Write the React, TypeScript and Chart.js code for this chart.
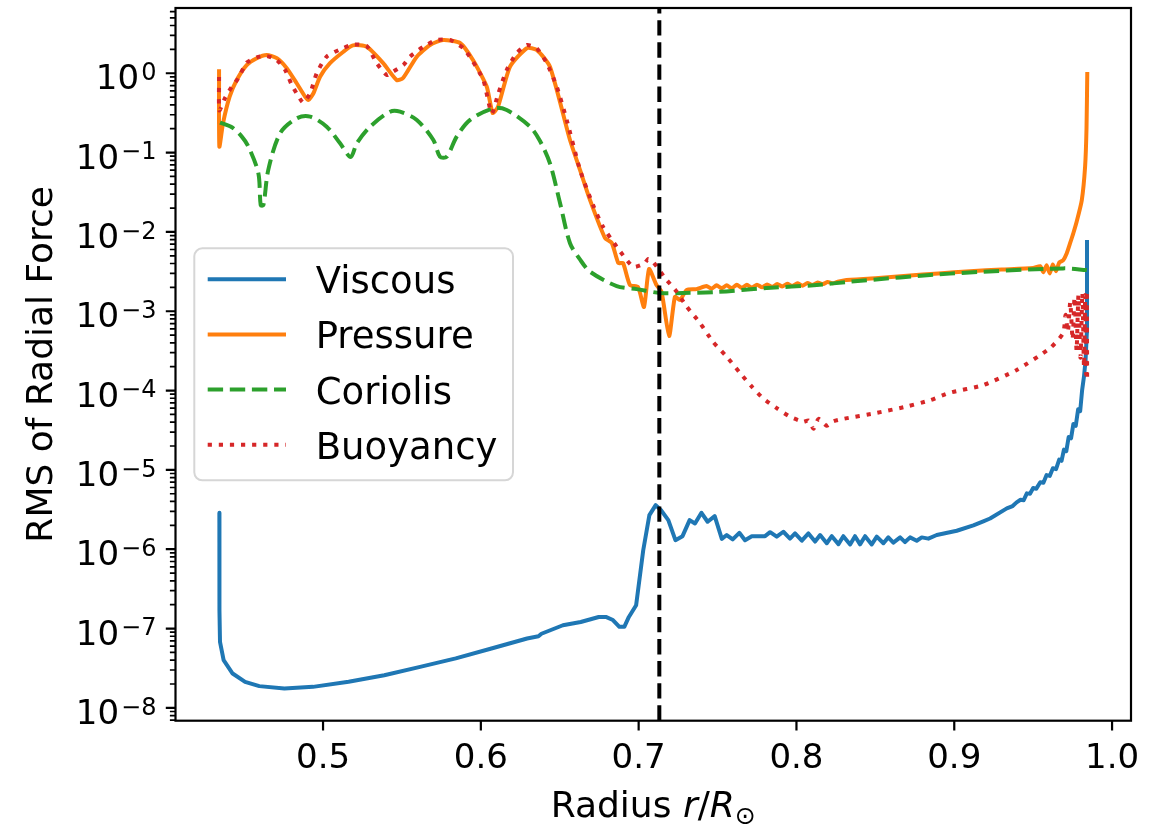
import React, { useEffect, useRef } from "react";
import { Chart, registerables } from "chart.js";

Chart.register(...registerables);

// ---------------- data ----------------
const viscousR = [0.4343, 0.4343, 0.4344, 0.4347, 0.437, 0.4427, 0.4506, 0.4596, 0.4755, 0.4936, 0.5162, 0.5388, 0.5615, 0.5841, 0.6067, 0.6293, 0.6365, 0.6384, 0.652, 0.6633, 0.6747, 0.6792, 0.6837, 0.6878, 0.6909, 0.6938, 0.6984, 0.7029, 0.7068, 0.7108, 0.7142, 0.7188, 0.7233, 0.7278, 0.7323, 0.7357, 0.7398, 0.7437, 0.7482, 0.7527, 0.7558, 0.7596, 0.7638, 0.7674, 0.7717, 0.7801, 0.7833, 0.7875, 0.7917, 0.7959, 0.7991, 0.8034, 0.8076, 0.8118, 0.815, 0.8192, 0.8224, 0.8266, 0.8297, 0.834, 0.8371, 0.8403, 0.8435, 0.8477, 0.8509, 0.8551, 0.8582, 0.8614, 0.8657, 0.8688, 0.872, 0.8762, 0.8794, 0.8836, 0.8889, 0.9016, 0.9121, 0.9184, 0.9227, 0.9333, 0.937, 0.9395, 0.942, 0.944, 0.946, 0.948, 0.95, 0.952, 0.9545, 0.9565, 0.9585, 0.9605, 0.9625, 0.9645, 0.9665, 0.968, 0.9695, 0.971, 0.9725, 0.974, 0.9755, 0.977, 0.9785, 0.9798, 0.981, 0.9822, 0.9832, 0.984, 0.9841];
const viscousV = [2.88e-6, 4.95e-7, 1.7e-7, 6.8e-8, 4.0e-8, 2.71e-8, 2.13e-8, 1.88e-8, 1.76e-8, 1.84e-8, 2.13e-8, 2.58e-8, 3.29e-8, 4.2e-8, 5.6e-8, 7.5e-8, 8.0e-8, 8.6e-8, 1.1e-7, 1.21e-7, 1.4e-7, 1.4e-7, 1.28e-7, 1.05e-7, 1.05e-7, 1.4e-7, 1.97e-7, 9.7e-7, 2.69e-6, 3.6e-6, 3.1e-6, 2.33e-6, 1.3e-6, 1.46e-6, 2.33e-6, 2.11e-6, 2.88e-6, 2.22e-6, 2.61e-6, 1.35e-6, 1.51e-6, 1.33e-6, 1.61e-6, 1.3e-6, 1.46e-6, 1.46e-6, 1.64e-6, 1.44e-6, 1.66e-6, 1.36e-6, 1.58e-6, 1.28e-6, 1.58e-6, 1.25e-6, 1.51e-6, 1.19e-6, 1.46e-6, 1.16e-6, 1.46e-6, 1.15e-6, 1.46e-6, 1.15e-6, 1.46e-6, 1.15e-6, 1.44e-6, 1.19e-6, 1.41e-6, 1.21e-6, 1.41e-6, 1.23e-6, 1.41e-6, 1.28e-6, 1.41e-6, 1.36e-6, 1.51e-6, 1.71e-6, 2.0e-6, 2.25e-6, 2.44e-6, 3.27e-6, 3.5e-6, 3.9e-6, 4.2e-6, 4.15e-6, 5.06e-6, 5.0e-6, 5.9e-6, 5.8e-6, 7.0e-6, 6.9e-6, 8.6e-6, 8.4e-6, 1.05e-5, 1.02e-5, 1.35e-5, 1.3e-5, 1.8e-5, 1.72e-5, 2.6e-5, 2.5e-5, 3.8e-5, 3.6e-5, 5.8e-5, 5.5e-5, 1.0e-4, 1.5e-4, 2.4e-4, 5.3e-4, 7.9e-3];

const pressureR = [0.4341, 0.4343, 0.4366, 0.4408, 0.4453, 0.4516, 0.458, 0.4643, 0.4707, 0.477, 0.4833, 0.4886, 0.4907, 0.4939, 0.4981, 0.5044, 0.5129, 0.519, 0.5277, 0.538, 0.5467, 0.5507, 0.5594, 0.5678, 0.576, 0.5868, 0.595, 0.6037, 0.6075, 0.6109, 0.6185, 0.6291, 0.6354, 0.6438, 0.6565, 0.6629, 0.6692, 0.6787, 0.683, 0.6871, 0.6901, 0.6945, 0.6996, 0.7034, 0.7066, 0.7113, 0.7145, 0.7193, 0.723, 0.7262, 0.7303, 0.7366, 0.743, 0.7462, 0.7494, 0.7526, 0.7558, 0.759, 0.7622, 0.7654, 0.7686, 0.7718, 0.775, 0.7782, 0.7814, 0.7846, 0.7878, 0.791, 0.7942, 0.7974, 0.8006, 0.8038, 0.807, 0.8102, 0.8134, 0.8166, 0.8198, 0.823, 0.8262, 0.83, 0.85, 0.87, 0.89, 0.91, 0.93, 0.95, 0.9545, 0.9565, 0.9585, 0.9605, 0.9625, 0.9645, 0.9665, 0.969, 0.9713, 0.9734, 0.9755, 0.9776, 0.9808, 0.9829, 0.9838, 0.9843];
const pressureV = [1.12, 0.119, 0.234, 0.507, 0.823, 1.27, 1.55, 1.7, 1.55, 1.16, 0.748, 0.507, 0.46, 0.56, 0.906, 1.34, 1.87, 2.25, 2.16, 1.35, 0.82, 0.87, 1.62, 2.27, 2.63, 2.41, 1.47, 0.68, 0.316, 0.38, 1.21, 2.07, 1.97, 1.21, 0.144, 0.06, 0.0252, 0.00838, 0.00724, 0.00405, 0.00405, 0.00214, 0.00202, 0.00113, 0.0034, 0.00214, 0.00176, 0.000487, 0.00152, 0.00138, 0.00185, 0.0019, 0.00208, 0.00192, 0.00212, 0.00195, 0.00212, 0.00195, 0.00215, 0.00197, 0.00215, 0.00198, 0.00216, 0.002, 0.00218, 0.00202, 0.0022, 0.00205, 0.00222, 0.00208, 0.00225, 0.0021, 0.00227, 0.00215, 0.0023, 0.0022, 0.00233, 0.00225, 0.00236, 0.00245, 0.0026, 0.0028, 0.003, 0.0032, 0.00335, 0.0035, 0.0037, 0.0031, 0.0038, 0.003, 0.0039, 0.0032, 0.0041, 0.0044, 0.0054, 0.0072, 0.0097, 0.0135, 0.025, 0.066, 0.2, 1.04];

const coriolisR = [0.4347, 0.4422, 0.4485, 0.4527, 0.459, 0.4605, 0.4622, 0.4653, 0.4728, 0.4833, 0.4918, 0.5023, 0.5108, 0.5175, 0.5214, 0.5298, 0.5425, 0.5488, 0.5594, 0.5699, 0.5741, 0.5784, 0.5847, 0.5932, 0.6079, 0.6164, 0.6312, 0.6375, 0.6438, 0.6502, 0.6565, 0.6628, 0.6692, 0.6861, 0.6988, 0.7136, 0.7281, 0.7495, 0.7812, 0.8129, 0.834, 0.8973, 0.969, 0.984];
const coriolisV = [0.239, 0.209, 0.159, 0.119, 0.055, 0.0218, 0.0218, 0.0606, 0.175, 0.27, 0.284, 0.212, 0.131, 0.088, 0.131, 0.212, 0.328, 0.328, 0.258, 0.144, 0.0888, 0.0888, 0.159, 0.258, 0.362, 0.344, 0.212, 0.14, 0.073, 0.023, 0.0072, 0.0045, 0.00315, 0.00208, 0.0019, 0.0017, 0.0017, 0.00175, 0.00196, 0.00214, 0.00236, 0.00298, 0.00347, 0.0033];

const buoyancyR = [0.4341, 0.4343, 0.4379, 0.4422, 0.4463, 0.4516, 0.458, 0.4643, 0.4707, 0.476, 0.4802, 0.4843, 0.4875, 0.4918, 0.496, 0.5023, 0.5108, 0.519, 0.5277, 0.534, 0.5404, 0.5444, 0.5509, 0.5551, 0.5636, 0.572, 0.5805, 0.5889, 0.595, 0.6016, 0.6069, 0.6111, 0.6164, 0.6227, 0.6291, 0.6354, 0.6418, 0.6481, 0.6544, 0.6629, 0.6711, 0.6774, 0.6861, 0.6965, 0.7036, 0.706, 0.7091, 0.7167, 0.7241, 0.7305, 0.7389, 0.7471, 0.7558, 0.7643, 0.7717, 0.7788, 0.7875, 0.7959, 0.8044, 0.8076, 0.8108, 0.814, 0.8192, 0.8235, 0.8298, 0.85, 0.87, 0.885, 0.8973, 0.9183, 0.9396, 0.9607, 0.969, 0.9705, 0.972, 0.9735, 0.975, 0.9762, 0.9775, 0.9787, 0.98, 0.9812, 0.9822, 0.983, 0.9836, 0.984, 0.9842];
const buoyancyV = [0.9, 0.34, 0.488, 0.678, 0.865, 1.36, 1.59, 1.65, 1.47, 1.1, 0.71, 0.517, 0.426, 0.56, 1.0, 1.62, 2.0, 2.3, 2.2, 1.34, 0.95, 1.05, 1.27, 1.62, 2.16, 2.63, 2.63, 2.07, 1.4, 0.82, 0.313, 0.56, 1.1, 1.79, 2.27, 2.07, 1.34, 0.68, 0.258, 0.06, 0.0218, 0.0116, 0.0065, 0.00364, 0.004, 0.00455, 0.00421, 0.00262, 0.00176, 0.00114, 0.00071, 0.000412, 0.000267, 0.000166, 0.000112, 8.0e-5, 6.0e-5, 4.68e-5, 4.04e-5, 4.2e-5, 3.3e-5, 4.4e-5, 3.6e-5, 4.1e-5, 4.4e-5, 5.2e-5, 6.3e-5, 7.6e-5, 9.4e-5, 1.17e-4, 1.82e-4, 3.43e-4, 5.3e-4, 9.0e-4, 5.5e-4, 1.3e-3, 4.4e-4, 1.5e-3, 3.2e-4, 1.6e-3, 2.6e-4, 1.7e-3, 2.0e-4, 1.6e-3, 1.6e-4, 1.8e-3, 1.4e-4];

const tachoclineR = 0.7131;

const seriesLabels = ["Viscous", "Pressure", "Coriolis", "Buoyancy"];
const xTickValues = [0.5, 0.6, 0.7, 0.8, 0.9, 1.0];
const xTickLabels = ["0.5", "0.6", "0.7", "0.8", "0.9", "1.0"];
const yTickValues = [1e-8, 1e-7, 1e-6, 1e-5, 1e-4, 1e-3, 1e-2, 1e-1, 1];
const yTickExponents = ["\u22128", "\u22127", "\u22126", "\u22125", "\u22124", "\u22123", "\u22122", "\u22121", "0"];
const xAxisTitle = ["Radius ", "r", "/", "R", "\u2299"];
const yAxisTitle = "RMS of Radial Force";

// axis limits
const X_MIN = 0.4065;
const X_MAX = 1.012;
const Y_MIN = 6.89e-9;
const Y_MAX = 6.65;

const FONT = '"DejaVu Sans", "Liberation Sans", sans-serif';

function toPoints(xs: number[], ys: number[]) {
  return xs.map((x, i) => ({ x, y: ys[i] }));
}

const mplPlugin = {
  id: "mplAxes",
  afterDatasetsDraw(chart: any) {
    const { ctx, chartArea: a, scales } = chart;
    const xs = scales.x;
    const ys = scales.y;
    ctx.save();
    ctx.strokeStyle = "#000";
    ctx.fillStyle = "#000";

    // ticks
    const majorLen = 9.7;
    const minorLen = 5.6;
    ctx.lineWidth = 2.2;
    ctx.beginPath();
    xTickValues.forEach((v) => {
      const px = xs.getPixelForValue(v);
      ctx.moveTo(px, a.bottom);
      ctx.lineTo(px, a.bottom + majorLen);
    });
    yTickValues.forEach((v) => {
      const py = ys.getPixelForValue(v);
      ctx.moveTo(a.left, py);
      ctx.lineTo(a.left - majorLen, py);
    });
    ctx.stroke();

    ctx.lineWidth = 1.7;
    ctx.beginPath();
    for (let e = -9; e <= 0; e++) {
      for (let m = 2; m <= 9; m++) {
        const v = m * Math.pow(10, e);
        if (v < Y_MIN || v > Y_MAX) continue;
        const py = ys.getPixelForValue(v);
        ctx.moveTo(a.left, py);
        ctx.lineTo(a.left - minorLen, py);
      }
    }
    ctx.stroke();

    // spines
    ctx.lineWidth = 2.2;
    ctx.strokeRect(a.left, a.top, a.right - a.left, a.bottom - a.top);

    // x tick labels
    ctx.font = `34px ${FONT}`;
    ctx.textAlign = "center";
    ctx.textBaseline = "alphabetic";
    xTickValues.forEach((v, i) => {
      const px = xs.getPixelForValue(v);
      ctx.fillText(xTickLabels[i], px, a.bottom + 47.5);
    });

    // y tick labels: 10^n
    const right = a.left - majorLen - 9.4;
    yTickValues.forEach((v, i) => {
      const py = ys.getPixelForValue(v);
      ctx.font = `24px ${FONT}`;
      const we = ctx.measureText(yTickExponents[i]).width;
      ctx.font = `34px ${FONT}`;
      const wb = ctx.measureText("10").width;
      const start = right - we - wb - 2;
      ctx.textAlign = "left";
      ctx.fillText("10", start, py + 16);
      ctx.font = `24px ${FONT}`;
      ctx.fillText(yTickExponents[i], start + wb + 2, py + 6.7);
    });

    // x axis title with italic math
    const parts = [
      { t: xAxisTitle[0], f: `36px ${FONT}`, dy: 0 },
      { t: xAxisTitle[1], f: `italic 36px ${FONT}`, dy: 0 },
      { t: xAxisTitle[2], f: `36px ${FONT}`, dy: 0 },
      { t: xAxisTitle[3], f: `italic 36px ${FONT}`, dy: 0 },
      { t: xAxisTitle[4], f: `25px ${FONT}`, dy: 7 },
    ];
    let total = 0;
    const widths = parts.map((p) => {
      ctx.font = p.f;
      const w = ctx.measureText(p.t).width;
      total += w;
      return w;
    });
    let cx = (a.left + a.right) / 2 - total / 2;
    const baseY = a.bottom + 96.5;
    ctx.textAlign = "left";
    parts.forEach((p, i) => {
      ctx.font = p.f;
      ctx.fillText(p.t, cx, baseY + p.dy);
      cx += widths[i];
    });

    // y axis title
    ctx.save();
    ctx.translate(52, (a.top + a.bottom) / 2);
    ctx.rotate(-Math.PI / 2);
    ctx.font = `36px ${FONT}`;
    ctx.textAlign = "center";
    ctx.fillText(yAxisTitle, 0, 0);
    ctx.restore();

    // legend (center left)
    const lx = a.left + 18.8;
    const lw = 318.7;
    const lh = 232;
    const ly = (a.top + a.bottom) / 2 - lh / 2;
    ctx.beginPath();
    if (ctx.roundRect) ctx.roundRect(lx, ly, lw, lh, 8);
    else ctx.rect(lx, ly, lw, lh);
    ctx.fillStyle = "rgba(255,255,255,0.8)";
    ctx.fill();
    ctx.strokeStyle = "#d6d6d6";
    ctx.lineWidth = 2;
    ctx.stroke();

    const ds = chart.data.datasets;
    for (let i = 0; i < seriesLabels.length; i++) {
      const d = ds[i];
      const ry = ly + 31 + i * 55.1;
      ctx.beginPath();
      ctx.strokeStyle = d.borderColor;
      ctx.lineWidth = d.borderWidth;
      ctx.setLineDash(d.borderDash || []);
      ctx.lineCap = "butt";
      ctx.moveTo(lx + 13.4, ry);
      ctx.lineTo(lx + 91.7, ry);
      ctx.stroke();
      ctx.setLineDash([]);
      ctx.fillStyle = "#000";
      ctx.font = `37px ${FONT}`;
      ctx.textAlign = "left";
      ctx.fillText(seriesLabels[i], lx + 121.4, ry + 14);
    }
    ctx.restore();
  },
};

export default function App() {
  const ref = useRef<HTMLCanvasElement | null>(null);
  useEffect(() => {
    if (!ref.current) return;
    const common = {
      pointRadius: 0,
      borderWidth: 4,
      fill: false,
      borderJoinStyle: "round" as const,
      borderCapStyle: "butt" as const,
    };
    const chart = new Chart(ref.current, {
      type: "line",
      data: {
        datasets: [
          { ...common, label: seriesLabels[0], data: toPoints(viscousR, viscousV), borderColor: "#1f77b4", tension: 0, order: 4 },
          { ...common, label: seriesLabels[1], data: toPoints(pressureR, pressureV), borderColor: "#ff7f0e", tension: 0.2, order: 3 },
          { ...common, label: seriesLabels[2], data: toPoints(coriolisR, coriolisV), borderColor: "#2ca02c", borderDash: [15.4, 6.7], tension: 0.3, order: 2 },
          { ...common, label: seriesLabels[3], data: toPoints(buoyancyR, buoyancyV), borderColor: "#d62728", borderDash: [4.2, 6.9], tension: 0.2, order: 1 },
          { ...common, label: "tachocline", data: [{ x: tachoclineR, y: Y_MIN }, { x: tachoclineR, y: Y_MAX }], borderColor: "#000000", borderDash: [15.4, 6.7], tension: 0, order: 0 },
        ],
      },
      options: {
        animation: false,
        responsive: false,
        devicePixelRatio: 1,
        layout: { padding: { left: 175.5, right: 32, top: 8, bottom: 103.3 } },
        scales: {
          x: { type: "linear", min: X_MIN, max: X_MAX, display: false },
          y: { type: "logarithmic", min: Y_MIN, max: Y_MAX, display: false },
        },
        plugins: { legend: { display: false }, tooltip: { enabled: false } },
      },
      plugins: [mplPlugin],
    } as any);
    return () => chart.destroy();
  }, []);
  return (
    <div style={{ position: "absolute", left: 0, top: 0, width: 1163, height: 824, background: "#fff" }}>
      <canvas ref={ref} width={1163} height={824} style={{ display: "block" }} />
    </div>
  );
}
